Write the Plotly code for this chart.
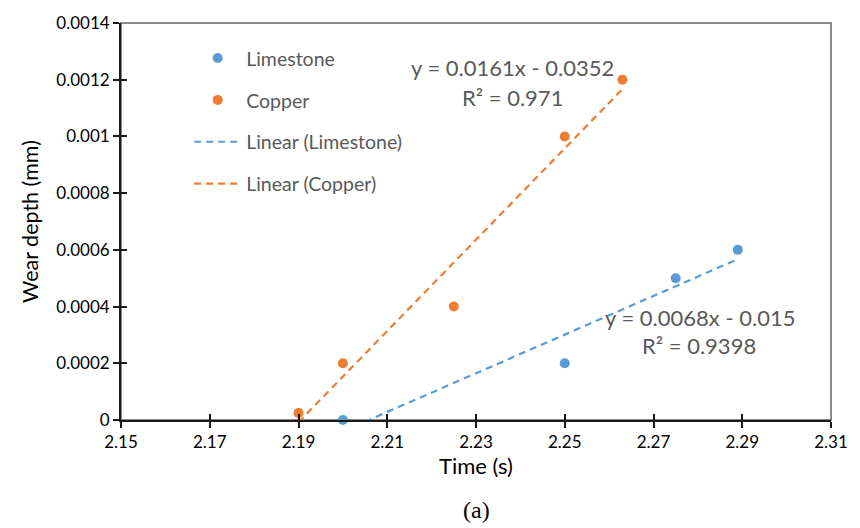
import numpy as np
import plotly.graph_objects as go

# ---- data ----
lime_time = [2.20, 2.25, 2.275, 2.289]
lime_wear = [0.0, 0.0002, 0.0005, 0.0006]
copper_time = [2.19, 2.20, 2.225, 2.25, 2.263]
copper_wear = [0.000025, 0.0002, 0.0004, 0.001, 0.0012]

x_ticks = [2.15, 2.17, 2.19, 2.21, 2.23, 2.25, 2.27, 2.29, 2.31]
y_ticks = [0, 0.0002, 0.0004, 0.0006, 0.0008, 0.001, 0.0012, 0.0014]
y_tick_labels = ["0", "0.0002", "0.0004", "0.0006", "0.0008", "0.001", "0.0012", "0.0014"]

lime_eq = ["y = 0.0068x - 0.015", "R² = 0.9398"]
copper_eq = ["y = 0.0161x - 0.0352", "R² = 0.971"]

BLUE = "#5B9BD5"
ORANGE = "#ED7D31"
GREY = "#595959"
FONT = "Lato"

def fit_line(xs, ys):
    k, b = np.polyfit(xs, ys, 1)
    xx = np.array([min(xs), max(xs)])
    return xx, k * xx + b

lx, ly = fit_line(lime_time, lime_wear)
cx, cy = fit_line(copper_time, copper_wear)

fig = go.Figure()
fig.add_trace(go.Scatter(x=lime_time, y=lime_wear, mode="markers", name="Limestone",
                         marker=dict(color=BLUE, size=10), legendgroup="a", cliponaxis=False))
fig.add_trace(go.Scatter(x=copper_time, y=copper_wear, mode="markers", name="Copper",
                         marker=dict(color=ORANGE, size=10), legendgroup="b", cliponaxis=False))
fig.add_trace(go.Scatter(x=lx, y=ly, mode="lines", name="Linear (Limestone)",
                         line=dict(color=BLUE, width=2.2, dash="7px,5px"), legendgroup="c"))
fig.add_trace(go.Scatter(x=cx, y=cy, mode="lines", name="Linear (Copper)",
                         line=dict(color=ORANGE, width=2.2, dash="7px,5px"), legendgroup="d"))
# invisible trace for overlay axes (inside tick halves)
fig.add_trace(go.Scatter(x=[], y=[], xaxis="x2", yaxis="y2", showlegend=False, hoverinfo="skip"))

xr = [2.15, 2.31]
yr = [0, 0.0014]
eq_font = dict(family=FONT, size=22, color=GREY)
fig.update_layout(
    width=860, height=528,
    margin=dict(l=121, r=28, t=19, b=108),
    paper_bgcolor="white", plot_bgcolor="white",
    font=dict(family=FONT, color="black"),
    showlegend=True,
    legend=dict(x=0.096, y=0.96, xanchor="left", yanchor="top",
                font=dict(family=FONT, size=19.5, color=GREY),
                tracegroupgap=13.5, itemwidth=47, bgcolor="rgba(0,0,0,0)"),
    xaxis=dict(range=xr, tickvals=x_ticks, ticktext=[f"{v:.2f}" for v in x_ticks],
               ticks="outside", ticklen=6, tickwidth=1.8, tickcolor="#1a1a1a",
               showline=True, linecolor="#1a1a1a", linewidth=1.8, showgrid=False, zeroline=False,
               tickfont=dict(size=17, color="black"),
               title=dict(text="Time (s)", font=dict(size=22, color="black"), standoff=7)),
    yaxis=dict(range=yr, tickvals=y_ticks, ticktext=y_tick_labels,
               ticks="outside", ticklen=6, tickwidth=1.8, tickcolor="#1a1a1a",
               showline=True, linecolor="#1a1a1a", linewidth=1.8, showgrid=False, zeroline=False,
               tickfont=dict(size=17, color="black"),
               title=dict(text="Wear depth (mm)", font=dict(size=21.5, color="black"), standoff=12)),
    xaxis2=dict(range=xr, overlaying="x", anchor="y2", tickvals=x_ticks, showticklabels=False,
                ticks="inside", ticklen=6, tickwidth=1.8, tickcolor="#1a1a1a",
                showline=False, showgrid=False, zeroline=False, side="bottom"),
    yaxis2=dict(range=yr, overlaying="y", anchor="x2", tickvals=y_ticks, showticklabels=False,
                ticks="inside", ticklen=6, tickwidth=1.8, tickcolor="#1a1a1a",
                showline=False, showgrid=False, zeroline=False, side="left"),
    shapes=[dict(type="rect", xref="paper", yref="paper", x0=0, x1=1, y0=0, y1=1,
                 line=dict(color="#666666", width=1.5), layer="below")],
    annotations=[
        dict(x=2.2382, y=0.001243, xref="x", yref="y", text=copper_eq[0], showarrow=False, font=eq_font),
        dict(x=2.2382, y=0.001139, xref="x", yref="y", text=copper_eq[1], showarrow=False, font=eq_font),
        dict(x=2.2804, y=0.000363, xref="x", yref="y", text=lime_eq[0], showarrow=False, font=eq_font),
        dict(x=2.2803, y=0.000262, xref="x", yref="y", text=lime_eq[1], showarrow=False, font=eq_font),
        dict(x=0.5, y=-0.226, xref="paper", yref="paper", text="(a)", showarrow=False,
             font=dict(family="Liberation Serif", size=24, color="black"), yanchor="middle"),
    ],
)

fig.write_html("out.html")
